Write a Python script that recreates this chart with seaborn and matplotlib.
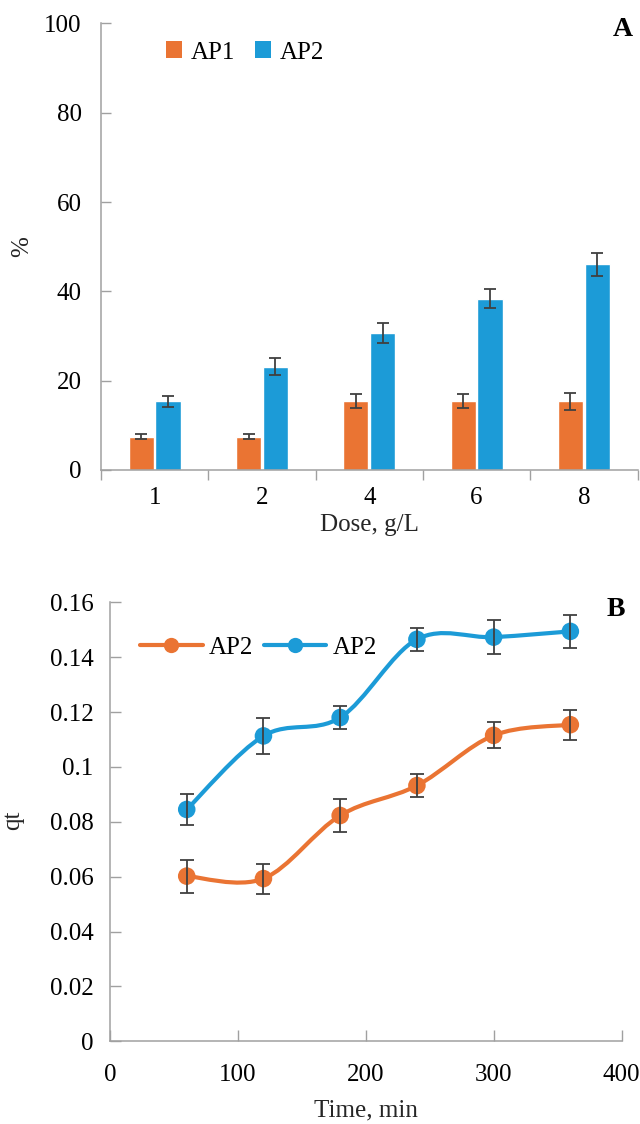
import numpy as np
import pandas as pd
import matplotlib
matplotlib.use("Agg")
import matplotlib.pyplot as plt
from matplotlib.path import Path
from matplotlib.patches import PathPatch, Patch
from matplotlib.lines import Line2D
from matplotlib.ticker import FuncFormatter, FixedLocator
import seaborn as sns

# ---------------- data ----------------
doses = ["1", "2", "4", "6", "8"]
ap1_pct = [7.5, 7.5, 15.4, 15.4, 15.4]
ap1_err = [0.55, 0.55, 1.6, 1.6, 1.9]
ap2_pct = [15.4, 23.1, 30.7, 38.4, 46.1]
ap2_err = [1.2, 1.9, 2.3, 2.2, 2.6]

times = [60, 120, 180, 240, 300, 360]
qt_orange = [0.0602, 0.0593, 0.0823, 0.0932, 0.1115, 0.1154]
qt_orange_err = [0.0060, 0.0055, 0.0059, 0.0042, 0.0047, 0.0055]
qt_blue = [0.0845, 0.1113, 0.1180, 0.1465, 0.1473, 0.1494]
qt_blue_err = [0.0055, 0.0065, 0.0042, 0.0041, 0.0062, 0.0059]
legend_labels_b = ["AP2", "AP2"]
legend_labels_a = ["AP1", "AP2"]

ORANGE = "#EA7433"
BLUE = "#1C9BD7"
AXCOL = "#A0A0A0"
ERRCOL = "#404040"

sns.set_theme(style="white")
plt.rcParams["font.family"] = ["Liberation Serif", "DejaVu Serif"]
plt.rcParams["text.color"] = "black"

fig = plt.figure(figsize=(6.4, 11.24), dpi=100)
W, H = 640, 1124
axA = fig.add_axes([101 / W, 1 - 470 / H, (637.5 - 101) / W, (470 - 23.5) / H])
axB = fig.add_axes([110 / W, 1 - 1041.3 / H, (621.5 - 110) / W, (1041.3 - 602.3) / H])

FS = 18

# ---------------- panel A ----------------
dfA = pd.DataFrame({
    "Dose": doses * 2,
    "value": ap1_pct + ap2_pct,
    "Series": [legend_labels_a[0]] * len(doses) + [legend_labels_a[1]] * len(doses),
})
sns.barplot(data=dfA, x="Dose", y="value", hue="Series", order=doses,
            palette=[ORANGE, BLUE], errorbar=None, width=0.5, gap=0.06,
            saturation=1, ax=axA, legend=False, zorder=2)
for cont, errs in zip(axA.containers, [ap1_err, ap2_err]):
    xs = [b.get_x() + b.get_width() / 2 for b in cont]
    ys = [b.get_height() for b in cont]
    axA.errorbar(xs, ys, yerr=errs, fmt="none", ecolor=ERRCOL, elinewidth=1.3,
                 capsize=4, capthick=1.3, zorder=3)

axA.set_ylim(0, 100)
axA.set_xlim(-0.5, len(doses) - 0.5)
axA.set_yticks(np.arange(0, 101, 20))
axA.yaxis.set_major_formatter(FuncFormatter(lambda v, p: f"{v:g}"))
axA.xaxis.set_minor_locator(FixedLocator(np.arange(-0.5, len(doses), 1.0)))
axA.tick_params(axis="x", which="major", length=0, pad=12, labelsize=FS, colors="black")
axA.tick_params(axis="x", which="minor", length=7, width=1.0, color=AXCOL, direction="out", bottom=True)
axA.tick_params(axis="y", which="major", length=7, width=1.0, color=AXCOL, direction="in",
                left=True, pad=14, labelsize=FS, labelcolor="black")
for s in ["top", "right"]:
    axA.spines[s].set_visible(False)
for s in ["left", "bottom"]:
    axA.spines[s].set_color(AXCOL)
    axA.spines[s].set_linewidth(1.1)
axA.set_xlabel("Dose, g/L", fontsize=FS, labelpad=4)
axA.set_ylabel("%", fontsize=FS)
axA.yaxis.set_label_coords((33 - 101) / 536.5, 0.5)
axA.grid(False)
handlesA = [Patch(facecolor=ORANGE, edgecolor="none"), Patch(facecolor=BLUE, edgecolor="none")]
axA.legend(handlesA, legend_labels_a, loc="center left", bbox_to_anchor=(0.121, 0.935), ncol=2,
           frameon=False, fontsize=FS, handlelength=0.65, handleheight=0.65,
           handletextpad=0.34, columnspacing=0.8, borderaxespad=0, borderpad=0)
fig.text(623 / W, 1 - 30 / H, "A", ha="center", va="center", fontsize=20, fontweight="bold")

# ---------------- panel B ----------------
def smooth_path(xs, ys):
    pts = np.column_stack([xs, ys]).astype(float)
    n = len(pts)
    verts = [pts[0]]
    codes = [Path.MOVETO]
    for i in range(n - 1):
        p0 = pts[i - 1] if i > 0 else pts[i]
        p1 = pts[i]
        p2 = pts[i + 1]
        p3 = pts[i + 2] if i + 2 < n else pts[i + 1]
        c1 = p1 + (p2 - p0) / 6.0
        c2 = p2 - (p3 - p1) / 6.0
        verts += [c1, c2, p2]
        codes += [Path.CURVE4] * 3
    return Path(np.array(verts), codes)

dfB = pd.DataFrame({
    "Time": times * 2,
    "qt": qt_orange + qt_blue,
    "Series": ["s1"] * len(times) + ["s2"] * len(times),
})
for ys, col in [(qt_orange, ORANGE), (qt_blue, BLUE)]:
    axB.add_patch(PathPatch(smooth_path(times, ys), facecolor="none", edgecolor=col,
                            linewidth=3.0, zorder=2, capstyle="round", joinstyle="round"))
sns.scatterplot(data=dfB, x="Time", y="qt", hue="Series", palette=[ORANGE, BLUE],
                s=160, edgecolor="none", linewidth=0, ax=axB, legend=False, zorder=3)
for ys, es in [(qt_orange, qt_orange_err), (qt_blue, qt_blue_err)]:
    axB.errorbar(times, ys, yerr=es, fmt="none", ecolor=ERRCOL, elinewidth=1.3,
                 capsize=5, capthick=1.3, zorder=4)

axB.set_xlim(0, 400)
axB.set_ylim(0, 0.16)
axB.set_xticks([0, 100, 200, 300, 400])
axB.set_yticks(np.arange(0, 0.161, 0.02))
axB.yaxis.set_major_formatter(FuncFormatter(lambda v, p: f"{round(v, 2):g}"))
axB.tick_params(axis="x", length=8, width=1.0, color=AXCOL, direction="in", bottom=True,
                pad=16, labelsize=FS, labelcolor="black")
axB.tick_params(axis="y", length=8, width=1.0, color=AXCOL, direction="in", left=True,
                pad=12, labelsize=FS, labelcolor="black")
for s in ["top", "right"]:
    axB.spines[s].set_visible(False)
for s in ["left", "bottom"]:
    axB.spines[s].set_color(AXCOL)
    axB.spines[s].set_linewidth(1.1)
axB.set_xlabel("Time, min", fontsize=FS, labelpad=10)
axB.set_ylabel("qt", fontsize=FS)
axB.yaxis.set_label_coords((24 - 110) / 511.5, 0.504)
axB.grid(False)
handlesB = [Line2D([], [], color=ORANGE, lw=3.0, marker="o", markersize=11, markeredgewidth=0),
            Line2D([], [], color=BLUE, lw=3.0, marker="o", markersize=11, markeredgewidth=0)]
axB.legend(handlesB, legend_labels_b, loc="center left", bbox_to_anchor=(0.0587, 0.897), ncol=2,
           frameon=False, fontsize=FS, handlelength=2.5, handletextpad=0.25,
           columnspacing=0.43, borderaxespad=0, borderpad=0)
fig.text(616 / W, 1 - 610 / H, "B", ha="center", va="center", fontsize=20, fontweight="bold")

fig.savefig("out.png", dpi=100)
